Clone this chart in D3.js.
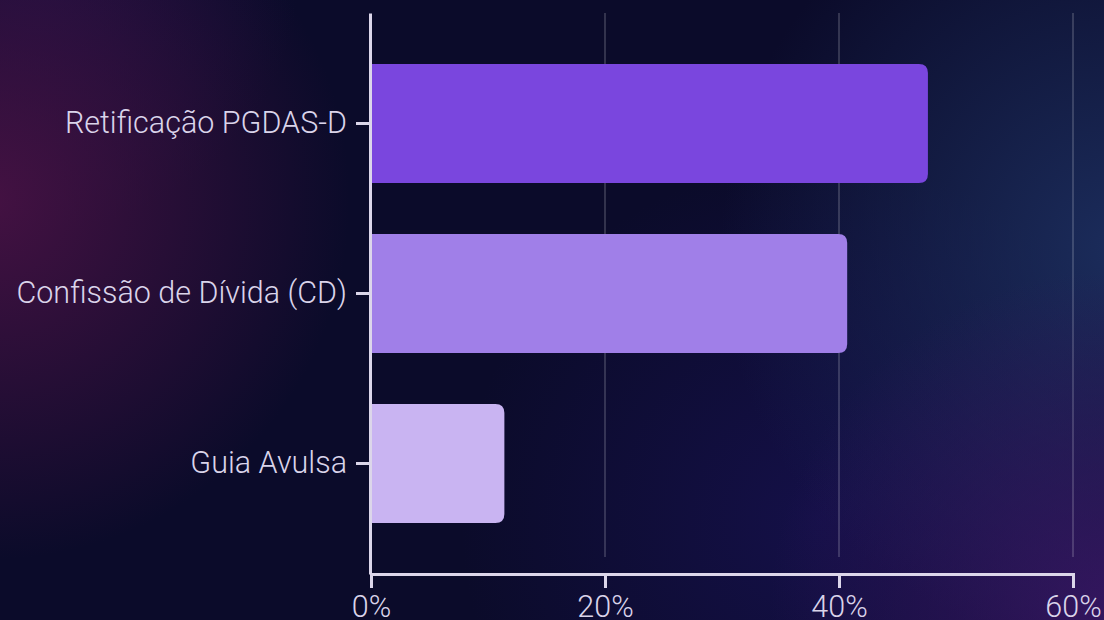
<!DOCTYPE html>
<html>
<head>
<meta charset="utf-8">
<script src="https://d3js.org/d3.v7.min.js"></script>
<style>
  html, body { margin: 0; padding: 0; background: #0b0b2a; }
  svg { display: block; }
  .tick text { font-family: Roboto, "Noto Sans", sans-serif; font-weight: 300; }
</style>
</head>
<body>
<svg id="chart" width="1104" height="620"></svg>
<script>
// data
const categories = ['Retificação PGDAS-D', 'Confissão de Dívida (CD)', 'Guia Avulsa'];
const shares = [47.6, 40.7, 11.4];
const barColors = ['#7a46de', '#a07fe8', '#c9b4f2'];
const xTicks = [0, 20, 40, 60];

const W = 1104, H = 620;
const plotLeft = 371, plotRight = 1073, plotTop = 13, axisY = 574, gridBottom = 557;

const svg = d3.select('#chart');
const defs = svg.append('defs');

function glow(id, cx, cy, r, color, op) {
  const g = defs.append('radialGradient').attr('id', id)
    .attr('gradientUnits', 'userSpaceOnUse')
    .attr('cx', cx).attr('cy', cy).attr('r', r);
  g.append('stop').attr('offset', 0).attr('stop-color', color).attr('stop-opacity', op);
  g.append('stop').attr('offset', 1).attr('stop-color', color).attr('stop-opacity', 0);
}
glow('gMagenta', -10, 200, 360, '#4a1245', 0.9);
glow('gBlue', 1120, 250, 400, '#1e3264', 0.85);
glow('gPurple', 1110, 610, 340, '#3a1766', 0.85);
glow('gViolet', 820, 520, 360, '#1c1460', 0.55);
glow('gTopLeft', 40, -30, 260, '#241250', 0.5);

svg.append('rect').attr('width', W).attr('height', H).attr('fill', '#0b0b2a');
['gTopLeft', 'gMagenta', 'gViolet', 'gBlue', 'gPurple'].forEach(function(id) {
  svg.append('rect').attr('width', W).attr('height', H).attr('fill', 'url(#' + id + ')');
});

const x = d3.scaleLinear().domain([0, 60]).range([plotLeft, plotRight]);
const y = d3.scaleBand().domain(categories).range([plotTop, axisY]).paddingInner(0.3).paddingOuter(0.3);

// gridlines
svg.append('g').selectAll('line')
  .data(xTicks.filter(function(d) { return d > 0; }))
  .enter().append('line')
  .attr('x1', function(d) { return x(d); })
  .attr('x2', function(d) { return x(d); })
  .attr('y1', plotTop).attr('y2', gridBottom)
  .attr('stroke', '#ffffff').attr('stroke-opacity', 0.22).attr('stroke-width', 1.5);

// bars, rounded on the right end only
const r = 9;
function barPath(d, i) {
  const x0 = x(0) + 1, x1 = x(shares[i]), y0 = y(d), h = y.bandwidth();
  return 'M' + x0 + ',' + y0 + 'H' + (x1 - r) +
    'Q' + x1 + ',' + y0 + ' ' + x1 + ',' + (y0 + r) +
    'V' + (y0 + h - r) +
    'Q' + x1 + ',' + (y0 + h) + ' ' + (x1 - r) + ',' + (y0 + h) +
    'H' + x0 + 'Z';
}
svg.append('g').selectAll('path')
  .data(categories).enter().append('path')
  .attr('d', barPath)
  .attr('fill', function(d, i) { return barColors[i]; });

// axes
const yAxis = svg.append('g')
  .attr('transform', 'translate(' + (plotLeft - 1) + ',0)')
  .call(d3.axisLeft(y).tickSize(14).tickSizeOuter(0).tickPadding(9));
const xAxis = svg.append('g')
  .attr('transform', 'translate(0,' + axisY + ')')
  .call(d3.axisBottom(x).tickValues(xTicks).tickSize(14).tickPadding(7)
    .tickFormat(function(d) { return d + '%'; }));

[yAxis, xAxis].forEach(function(a) {
  a.select('.domain').attr('stroke', '#dcd6ea').attr('stroke-width', 3);
  a.selectAll('.tick line').attr('stroke', '#dcd6ea').attr('stroke-width', 3);
  a.selectAll('.tick text').attr('fill', '#dad4ea').style('font-size', '30.5px');
});
</script>
</body>
</html>
